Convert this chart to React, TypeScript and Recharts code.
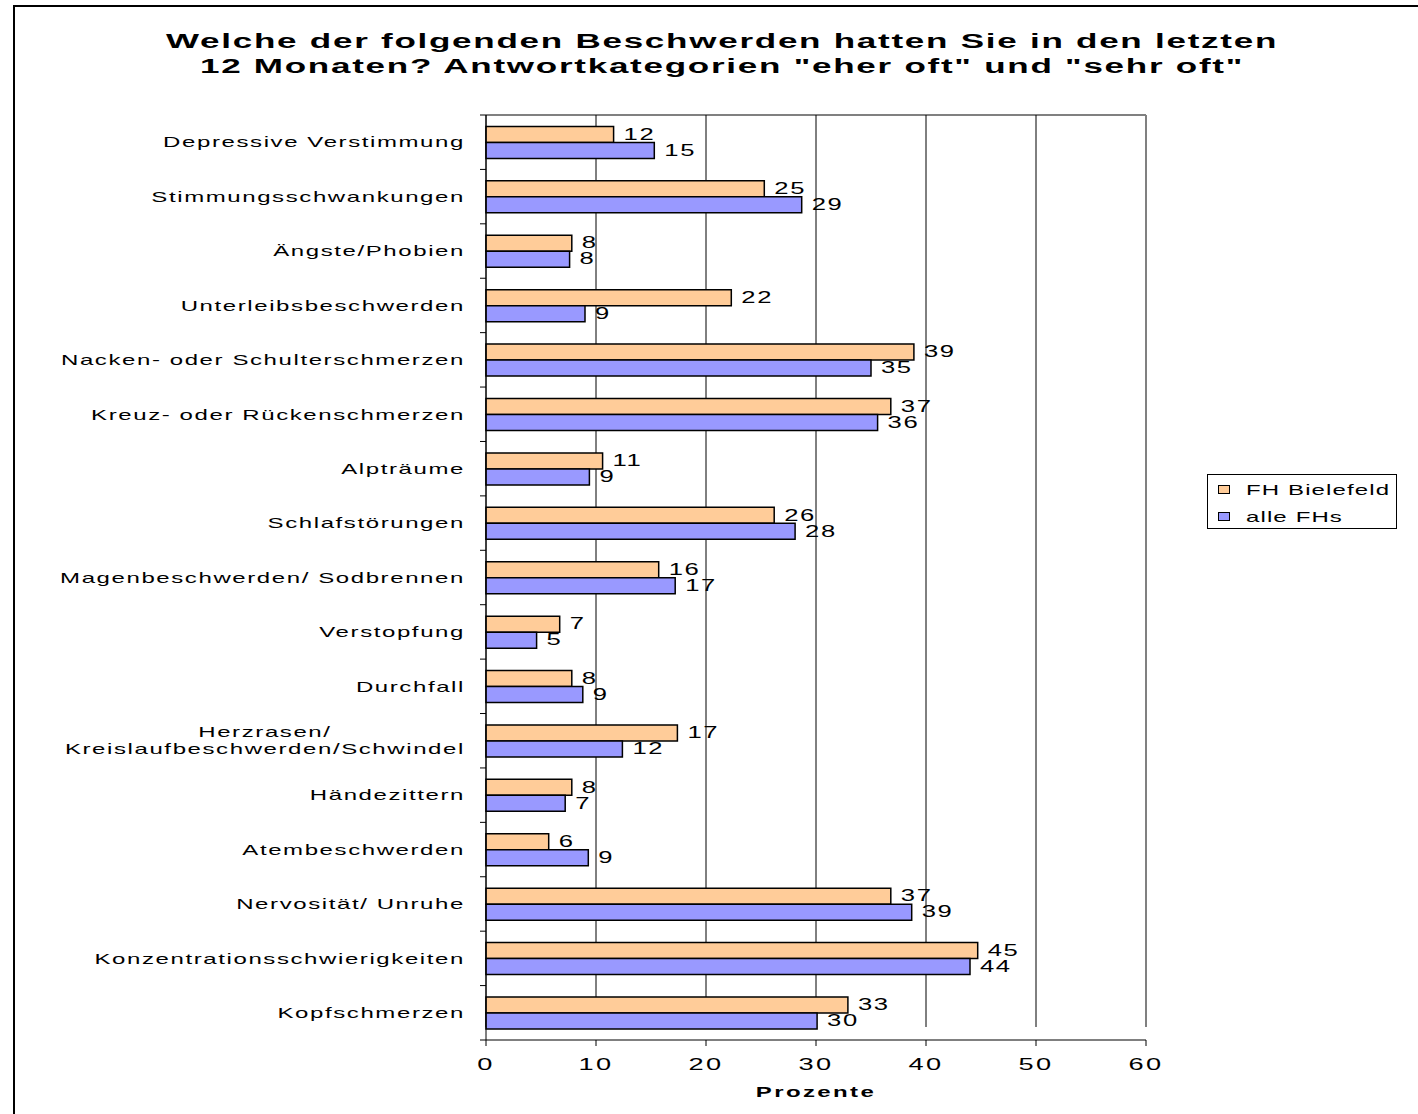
import React from "react";
import { BarChart, Bar, XAxis, YAxis, CartesianGrid, Legend, LabelList } from "recharts";

const categories = [
  "Depressive Verstimmung",
  "Stimmungsschwankungen",
  "Ängste/Phobien",
  "Unterleibsbeschwerden",
  "Nacken- oder Schulterschmerzen",
  "Kreuz- oder Rückenschmerzen",
  "Alpträume",
  "Schlafstörungen",
  "Magenbeschwerden/ Sodbrennen",
  "Verstopfung",
  "Durchfall",
  "Herzrasen/\nKreislaufbeschwerden/Schwindel",
  "Händezittern",
  "Atembeschwerden",
  "Nervosität/ Unruhe",
  "Konzentrationsschwierigkeiten",
  "Kopfschmerzen",
];

const fhBielefeld = [11.6, 25.3, 7.8, 22.3, 38.9, 36.8, 10.6, 26.2, 15.7, 6.7, 7.8, 17.4, 7.8, 5.7, 36.8, 44.7, 32.9];
const alleFHs = [15.3, 28.7, 7.6, 9.0, 35.0, 35.6, 9.4, 28.1, 17.2, 4.6, 8.8, 12.4, 7.2, 9.3, 38.7, 44.0, 30.1];

const xTicks = [0, 10, 20, 30, 40, 50, 60];
const titleLines = [
  "Welche der folgenden Beschwerden hatten Sie in den letzten",
  '12 Monaten? Antwortkategorien "eher oft" und "sehr oft"',
];
const seriesNames = ["FH Bielefeld", "alle FHs"];
const seriesColors = ["#FFCC99", "#9999FF"];

const data = categories.map((name, i) => ({ name, fh: fhBielefeld[i], alle: alleFHs[i] }));

const W = 1418;
const H = 1114;
const PLOT_LEFT = 486;
const PLOT_TOP = 115;
const PLOT_RIGHT = 1146;
const PLOT_BOTTOM = 1040;
// gridlines stop a little short of the x axis in the original
const GRID_GAP = 13;
const BORDER = "#808080";
const FONT = "'Liberation Sans', Arial, sans-serif";
// the original is rendered stretched horizontally
const SX = 1.6;
const LINE_H = 17;

let ctx: CanvasRenderingContext2D | null = null;
const textWidth = (s: string, size: number, spacing: number) => {
  if (!ctx) ctx = document.createElement("canvas").getContext("2d");
  if (!ctx) return s.length * size * 0.55 * SX;
  ctx.font = `${size}px ${FONT}`;
  return (ctx.measureText(s).width + spacing * s.length) * SX;
};

function WideText({ x, y, anchor = "start", size, weight = 400, spacing = 0, children }: any) {
  return (
    <text
      transform={`translate(${x},${y}) scale(${SX},1)`}
      textAnchor={anchor}
      dominantBaseline="central"
      fontFamily={FONT}
      fontSize={size}
      fontWeight={weight}
      letterSpacing={spacing}
      fill="#000"
    >
      {children}
    </text>
  );
}

function CategoryTick(props: any) {
  const { y, payload, index } = props;
  const lines = String(payload.value).split("\n");
  const maxW = Math.max(...lines.map((l) => textWidth(l, 15, 1)));
  const right = PLOT_LEFT - 21;
  const band = (PLOT_BOTTOM - PLOT_TOP) / categories.length;
  const y0 = y - ((lines.length - 1) * LINE_H) / 2;
  return (
    <g>
      <line x1={PLOT_LEFT - 6} x2={PLOT_LEFT} y1={y - band / 2} y2={y - band / 2} stroke="#000" />
      {index === categories.length - 1 ? (
        <line x1={PLOT_LEFT - 6} x2={PLOT_LEFT} y1={y + band / 2} y2={y + band / 2} stroke="#000" />
      ) : null}
      {lines.map((l, i) => (
        <WideText key={i} x={right - maxW / 2} y={y0 + i * LINE_H} anchor="middle" size={15} spacing={1}>
          {l}
        </WideText>
      ))}
    </g>
  );
}

function NumberTick(props: any) {
  const { x, y, payload } = props;
  return (
    <WideText x={x} y={y + 6} anchor="middle" size={17} spacing={1.5}>
      {payload.value}
    </WideText>
  );
}

function ValueLabel(props: any) {
  const { x, y, width, height, value } = props;
  return (
    <WideText x={x + width + 10} y={y + height / 2} size={16} spacing={1}>
      {Math.round(value)}
    </WideText>
  );
}

function AxisTitle(props: any) {
  const { viewBox } = props;
  return (
    <WideText x={viewBox.x + viewBox.width / 2} y={viewBox.y + 52} anchor="middle" size={15} weight={700} spacing={1.5}>
      Prozente
    </WideText>
  );
}

function GridLine(p: any) {
  const last = Math.abs(p.x1 - PLOT_RIGHT) < 1;
  return (
    <line
      x1={p.x1}
      x2={p.x2}
      y1={p.y1}
      y2={p.y2 - GRID_GAP}
      stroke={last ? BORDER : "#000"}
      strokeWidth={last ? 2 : 1}
    />
  );
}

function TopBorder(p: any) {
  return <line x1={p.x1} x2={p.x2} y1={p.y1} y2={p.y2} stroke={BORDER} strokeWidth={2} />;
}

function LegendBox() {
  return (
    <div style={{ border: "1px solid #000", background: "#fff", width: 190, height: 55, boxSizing: "border-box", position: "relative" }}>
      {seriesNames.map((n, i) => (
        <div key={n} style={{ position: "absolute", left: 10, top: 6 + i * 27, height: 16, display: "flex", alignItems: "center" }}>
          <div style={{ width: 10, height: 7, background: seriesColors[i], border: "1px solid #000" }} />
          <span
            style={{
              marginLeft: 16,
              fontFamily: FONT,
              fontSize: 15,
              letterSpacing: 0.7,
              transform: `scaleX(${SX})`,
              transformOrigin: "left center",
              whiteSpace: "nowrap",
              display: "inline-block",
            }}
          >
            {n}
          </span>
        </div>
      ))}
    </div>
  );
}

export default function App() {
  return (
    <div style={{ position: "absolute", left: 0, top: 0, width: W, height: H, overflow: "hidden", background: "#fff" }}>
      <div style={{ position: "absolute", left: 13, top: 5, width: W + 100, height: H + 100, border: "2px solid #000" }} />
      {titleLines.map((t, i) => (
        <div
          key={i}
          style={{
            position: "absolute",
            left: 722,
            top: 31 + i * 25,
            lineHeight: "20px",
            fontFamily: FONT,
            fontSize: 20,
            fontWeight: 700,
            letterSpacing: 1,
            whiteSpace: "nowrap",
            transform: "translateX(-50%) scaleX(1.75)",
          }}
        >
          {t}
        </div>
      ))}
      <div style={{ position: "absolute", left: 0, top: 0 }}>
        <BarChart
          width={W}
          height={H}
          data={data}
          layout="vertical"
          margin={{ top: PLOT_TOP, right: W - PLOT_RIGHT, bottom: 0, left: 0 }}
          barCategoryGap="21%"
          barGap={0}
        >
          <CartesianGrid horizontal={TopBorder} horizontalPoints={[PLOT_TOP]} vertical={GridLine} />
          <XAxis
            type="number"
            domain={[0, 60]}
            ticks={xTicks}
            interval={0}
            height={H - PLOT_BOTTOM}
            axisLine={{ stroke: "#000" }}
            tickLine={{ stroke: "#000" }}
            tickSize={6}
            tickMargin={12}
            tick={<NumberTick />}
            label={<AxisTitle />}
          />
          <YAxis
            type="category"
            dataKey="name"
            width={PLOT_LEFT}
            interval={0}
            axisLine={{ stroke: "#000" }}
            tickLine={false}
            tick={<CategoryTick />}
          />
          <Legend
            layout="horizontal"
            verticalAlign="middle"
            align="center"
            wrapperStyle={{ left: 1207, top: 474, width: 190 }}
            content={<LegendBox />}
          />
          <Bar dataKey="fh" name={seriesNames[0]} fill={seriesColors[0]} stroke="#000" strokeWidth={1.5} isAnimationActive={false}>
            <LabelList dataKey="fh" content={<ValueLabel />} />
          </Bar>
          <Bar dataKey="alle" name={seriesNames[1]} fill={seriesColors[1]} stroke="#000" strokeWidth={1.5} isAnimationActive={false}>
            <LabelList dataKey="alle" content={<ValueLabel />} />
          </Bar>
        </BarChart>
      </div>
    </div>
  );
}
